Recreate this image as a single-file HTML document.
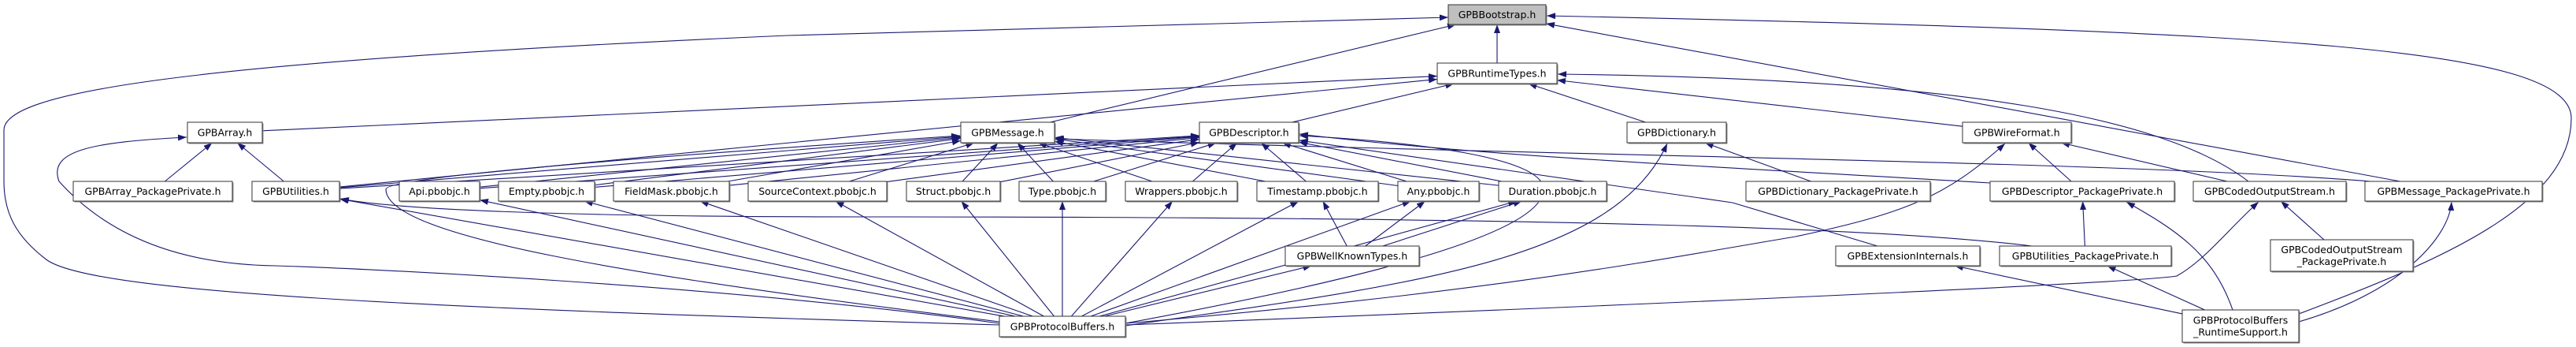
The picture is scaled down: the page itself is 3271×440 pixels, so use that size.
<!DOCTYPE html>
<html><head><meta charset="utf-8"><style>
html,body{margin:0;padding:0;background:#fff;}
svg{display:block;}
text{font-family:"DejaVu Sans","Liberation Sans",sans-serif;font-size:12.5px;fill:#000;}
</style></head><body>
<svg id="g" width="3271" height="440" xmlns="http://www.w3.org/2000/svg">
<defs><marker id="a" markerUnits="userSpaceOnUse" markerWidth="12" markerHeight="10" refX="11" refY="4" orient="auto"><path d="M0,0 L11,4 L0,8 z" fill="#191970"/></marker></defs>
<g id="e" fill="none" stroke="#191970" stroke-width="1.1" marker-end="url(#a)"></g>
<g id="n"></g>
</svg>
<script>
var N={
BS:[1839,1963,6,31,"GPBBootstrap.h",1],
RT:[1825,1977,80,106,"GPBRuntimeTypes.h"],
AR:[238,333,155,181,"GPBArray.h"],
MS:[1220,1339,155,181,"GPBMessage.h"],
DS:[1523,1649,155,181,"GPBDescriptor.h"],
DI:[2066,2192,155,181,"GPBDictionary.h"],
WF:[2492,2630,155,181,"GPBWireFormat.h"],
APP:[93,295,230,255,"GPBArray_PackagePrivate.h"],
UT:[320,431,230,255,"GPBUtilities.h"],
API:[507,609,230,255,"Api.pbobjc.h"],
EMP:[633,755,230,255,"Empty.pbobjc.h"],
FM:[779,926,230,255,"FieldMask.pbobjc.h"],
SC:[950,1126,230,255,"SourceContext.pbobjc.h"],
ST:[1151,1270,230,255,"Struct.pbobjc.h"],
TY:[1294,1404,230,255,"Type.pbobjc.h"],
WR:[1429,1571,230,255,"Wrappers.pbobjc.h"],
TS:[1596,1750,230,255,"Timestamp.pbobjc.h"],
ANY:[1775,1878,230,255,"Any.pbobjc.h"],
DU:[1903,2040,230,255,"Duration.pbobjc.h"],
DPP:[2217,2451,230,255,"GPBDictionary_PackagePrivate.h"],
DESPP:[2527,2761,230,255,"GPBDescriptor_PackagePrivate.h"],
COS:[2785,2979,230,255,"GPBCodedOutputStream.h"],
MPP:[3003,3228,230,255,"GPBMessage_PackagePrivate.h"],
WKT:[1632,1802,312,337,"GPBWellKnownTypes.h"],
EXT:[2331,2514,312,337,"GPBExtensionInternals.h"],
UPP:[2539,2757,312,337,"GPBUtilities_PackagePrivate.h"],
COSPP:[2883,3064,304,344,"GPBCodedOutputStream|_PackagePrivate.h"],
PB:[1269,1429,401,427,"GPBProtocolBuffers.h"],
RS:[2771,2919,393,434,"GPBProtocolBuffers|_RuntimeSupport.h"]
};
function clip(b,cx,cy,tx,ty){var dx=tx-cx,dy=ty-cy,hw=(b[1]-b[0])/2,hh=(b[3]-b[2])/2;var t=Math.min(dx?hw/Math.abs(dx):1e9,dy?hh/Math.abs(dy):1e9);return [cx+dx*t,cy+dy*t];}
var S=[["MS","BS"],["RT","BS"],["MPP","BS"],["AR","RT"],["UT","RT"],["DS","RT"],["DI","RT"],["WF","RT"],
["APP","AR"],["UT","AR"],["DPP","DI"],["DESPP","WF"],["COS","WF"],["COSPP","COS"],["UPP","DESPP"],["RS","UPP"],["RS","EXT"],
["WKT","TS"],["WKT","ANY"],["WKT","DU"],["PB","WKT"],["PB","UT"],["PB","API"],["PB","EMP"],["PB","FM"],["PB","SC"],["PB","ST"],["PB","TY"],["PB","WR"],["PB","TS"],["PB","ANY"],["PB","DU"]];
["UT","API","EMP","FM","SC","ST","TY","WR","TS","ANY","DU"].forEach(function(k){S.push([k,"MS"]);S.push([k,"DS"]);});
var E=document.getElementById("e"),h="";
S.forEach(function(s){var c=N[s[0]],p=N[s[1]];var cx=(c[0]+c[1])/2,cy=(c[2]+c[3])/2,px=(p[0]+p[1])/2,py=(p[2]+p[3])/2;
var a=clip(c,cx,cy,px,py),b=clip(p,px,py,cx,cy);h+='<path d="M'+a[0]+','+a[1]+' L'+b[0]+','+b[1]+'"/>';});
var C=["M1269,412 C500,390 120,370 60,330 C20,300 5,270 5,230 L5,165 C5,120 200,80 1000,45 L1839,22",
"M2919,398 C3100,330 3265,260 3265,150 C3265,60 2900,40 1964,20",
"M1269,410 C900,360 450,340 350,337 C200,335 120,280 75,230 C60,190 120,180 237,174",
"M1269,408 C800,350 490,300 490,240 C490,225 800,200 1219,172",
"M1429,410 C1700,360 1960,300 1960,240 C1960,200 1800,180 1650,172",
"M1429,413 C1800,360 2050,330 2117,182",
"M1429,410 C1900,370 2100,330 2280,300 C2420,270 2470,250 2546,182",
"M1429,412 C2000,390 2700,360 2764,350 C2800,330 2830,290 2868,256",
"M2580,312 C2400,290 2000,275 1100,275 C700,275 500,265 432,252",
"M2855,230 C2750,150 2500,100 1978,94",
"M2384,312 L2200,257 L1650,178",
"M3010,230 C2700,205 2000,198 1340,176",
"M2527,232 C2200,212 1900,200 1650,170",
"M2835,393 C2810,320 2760,290 2700,256",
"M2919,408 C3050,370 3110,300 3113,256"];
C.forEach(function(d){h+='<path d="'+d+'"/>';});
E.innerHTML=h;
var G=document.getElementById("n"),t="";
for(var k in N){var b=N[k],w=b[1]-b[0],ht=b[3]-b[2];
t+='<rect x="'+(b[0]+1.5)+'" y="'+(b[2]+1.5)+'" width="'+w+'" height="'+ht+'" fill="#888"/>';
t+='<rect x="'+b[0]+'" y="'+b[2]+'" width="'+w+'" height="'+ht+'" fill="'+(b[5]?'#bfbfbf':'#fff')+'" stroke="#333" stroke-width="1"/>';
var L=b[4].split("|"),cx=b[0]+w/2;
if(L.length==1)t+='<text x="'+cx+'" y="'+(b[2]+ht/2+4.5)+'" text-anchor="middle">'+L[0]+'</text>';
else{t+='<text x="'+cx+'" y="'+(b[2]+ht/2-3)+'" text-anchor="middle">'+L[0]+'</text><text x="'+cx+'" y="'+(b[2]+ht/2+12)+'" text-anchor="middle">'+L[1]+'</text>';}}
G.innerHTML=t;
</script>
</body></html>
